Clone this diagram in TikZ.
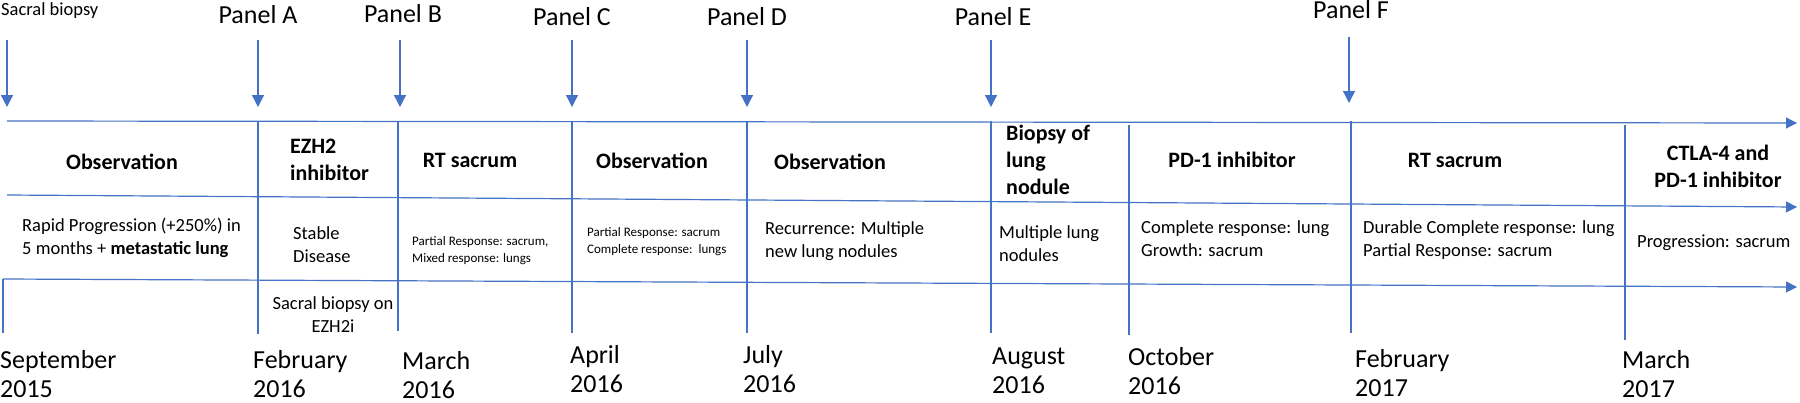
\documentclass[tikz,border=0pt]{standalone}
\usepackage{fontspec}
\setmainfont{Carlito}
\usetikzlibrary{shapes, arrows.meta}
\definecolor{tlblue}{RGB}{68,114,196}
\tikzstyle{panel} = [inner sep=0pt, font=\fontsize{26}{31}\selectfont]
\tikzstyle{datelbl} = [inner sep=0pt, anchor=west, align=left, font=\fontsize{26}{29}\selectfont]
\tikzstyle{treat} = [inner sep=0pt, align=center, font=\fontsize{22}{27}\selectfont\bfseries]
\tikzstyle{resp} = [inner sep=0pt, anchor=west, align=left, font=\fontsize{18.5}{23}\selectfont]
\tikzstyle{smallresp} = [inner sep=0pt, anchor=west, align=left, font=\fontsize{13}{17}\selectfont]
\tikzstyle{line} = [draw, tlblue, line width=1.2pt]
\tikzstyle{axis} = [draw, tlblue, line width=1.2pt, -{Triangle[length=11pt, width=11pt]}]
\tikzstyle{pointer} = [draw, tlblue, line width=1.3pt, -{Triangle[length=12pt, width=12pt]}]

\begin{document}
\begin{tikzpicture}[x=1pt, y=-1pt]
    \useasboundingbox (0,0) rectangle (1800,402);

    % time axes
    \coordinate (t0) at (7,121);
    \coordinate (t1) at (1797,123);
    \coordinate (m0) at (7,195);
    \coordinate (m1) at (1797,207);
    \coordinate (b0) at (3,279);
    \coordinate (b1) at (1797,287);
    \coordinate (s0) at (3,333);
    \path[axis] (t0) -- (t1);
    \path[axis] (m0) -- (m1);
    \path[axis] (b0) -- (b1);
    \path[line] (b0) -- (s0);

    % dividers
    \path[line] (258,121) -- (258,334);
    \path[line] (398,121) -- (398,331);
    \path[line] (572,121) -- (572,333);
    \path[line] (747,121) -- (747,333);
    \path[line] (991,121) -- (991,333);
    \path[line] (1129,125) -- (1129,335);
    \path[line] (1351,121) -- (1351,333);
    \path[line] (1625,125) -- (1625,340);

    % panels
    \node[inner sep=0pt, anchor=west, font=\fontsize{18.5}{22}\selectfont] (sb) at (1,11) {Sacral biopsy};
    \coordinate (sbtop) at (7,40);
    \coordinate (sbtip) at (7,107);
    \path[pointer] (sbtop) -- (sbtip);
    \node[panel] (pA) at (258,15) {Panel A};
    \node[panel] (pB) at (403,14) {Panel B};
    \node[panel] (pC) at (572,17) {Panel C};
    \node[panel] (pD) at (747,17) {Panel D};
    \node[panel] (pE) at (993,17) {Panel E};
    \node[panel] (pF) at (1351,10) {Panel F};
    \path[pointer] (258,40) -- (258,107);
    \path[pointer] (400,40) -- (400,107);
    \path[pointer] (pC |- 0,40) -- (pC |- 0,107);
    \path[pointer] (pD |- 0,40) -- (pD |- 0,107);
    \path[pointer] (991,40) -- (991,107);
    \path[pointer] (1349,37) -- (1349,103);

    % treatments
    \node[treat] (obs1) at (122,162) {Observation};
    \node[treat, anchor=west, align=left] (ezh) at (290,160) {EZH2\\inhibitor};
    \node[treat] (rt1) at (470,160) {RT sacrum};
    \node[treat] (obs2) at (652,161) {Observation};
    \node[treat] (obs3) at (830,162) {Observation};
    \node[treat, anchor=west, align=left] (bio) at (1006,160) {Biopsy of\\lung\\nodule};
    \node[treat] (pd1) at (1232,160) {PD-1 inhibitor};
    \node[treat] (rt2) at (1455,160) {RT sacrum};
    \node[treat] (ctla) at (1718,166) {CTLA-4 and\\PD-1 inhibitor};

    % responses
    \node[resp] (r1) at (22,238) {Rapid Progression (+250\%) in\\5 months + \textbf{metastatic lung}};
    \node[resp] (r2) at (293,245) {Stable\\Disease};
    \node[smallresp] (r3) at (412,251) {Partial Response: sacrum,\\Mixed response: lungs};
    \node[smallresp] (r4) at (587,242) {Partial Response: sacrum\\Complete response:\ \ lungs};
    \node[resp] (r5) at (765,241) {Recurrence: Multiple\\new lung nodules};
    \node[resp] (r6) at (999,244) {Multiple lung\\nodules};
    \node[resp] (r7) at (1141,239) {Complete response: lung\\Growth: sacrum};
    \node[resp] (r8) at (1363,240) {Durable Complete response: lung\\Partial Response: sacrum};
    \node[resp] (r9) at (1637,243) {Progression: sacrum};
    \node[resp, anchor=center, align=center] (ezhbio) at (333,315) {Sacral biopsy on\\EZH2i};

    % dates
    \node[datelbl] (d1) at (0,374) {September\\2015};
    \node[datelbl] (d2) at (253,374) {February\\2016};
    \node[datelbl] (d3) at (402,375) {March\\2016};
    \node[datelbl] (d4) at (570,369) {April\\2016};
    \node[datelbl] (d5) at (743,369) {July\\2016};
    \node[datelbl] (d6) at (992,371) {August\\2016};
    \node[datelbl] (d7) at (1128,371) {October\\2016};
    \node[datelbl] (d8) at (1355,373) {February\\2017};
    \node[datelbl] (d9) at (1622,374) {March\\2017};
\end{tikzpicture}
\end{document}
